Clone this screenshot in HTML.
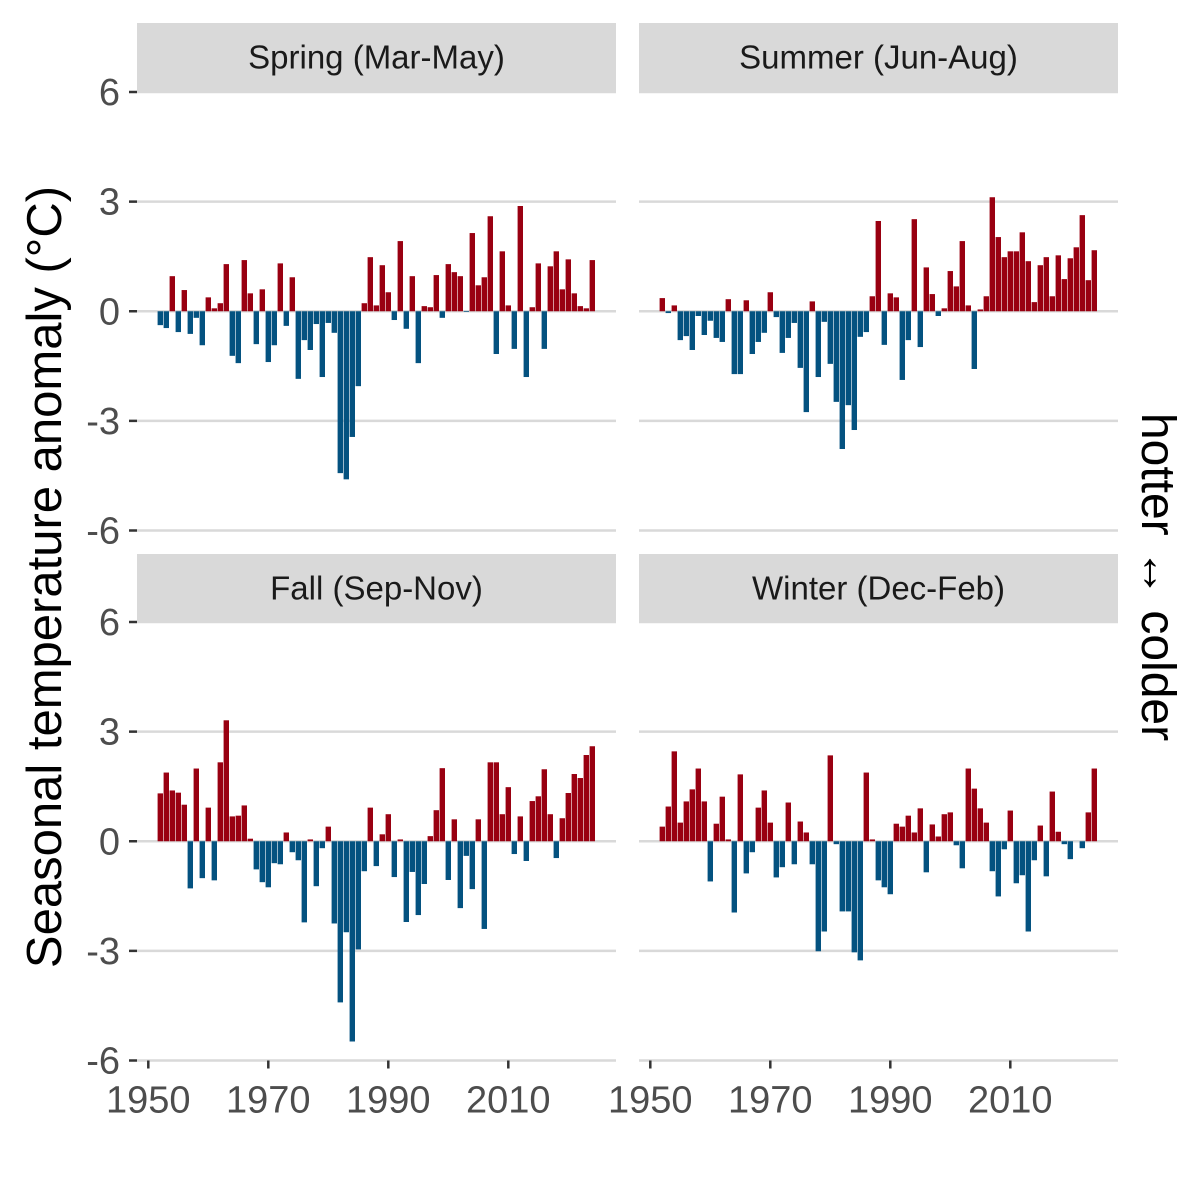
<!DOCTYPE html>
<html><head><meta charset="utf-8"><style>
html,body{margin:0;padding:0;background:#fff;}
svg{display:block;font-family:"Liberation Sans",Arial,sans-serif;}
</style></head><body>
<svg id="chart" width="1200" height="1200" viewBox="0 0 1200 1200" xmlns="http://www.w3.org/2000/svg">
<rect width="1200" height="1200" fill="#fff"/>
<text transform="translate(61,577) rotate(-90)" text-anchor="middle" font-size="49" fill="#000">Seasonal temperature anomaly (°C)</text>
<text transform="translate(1142,577) rotate(90)" text-anchor="middle" font-size="48" fill="#000">hotter ↔ colder</text>
<g id="panels"></g>
</svg>
<script>
const years = [];
for (let y = 1952; y <= 2024; y++) years.push(y);
const yTicks = [6, 3, 0, -3, -6];
const xTicks = [1950, 1970, 1990, 2010];
const seasonNames = ["Spring (Mar-May)", "Summer (Jun-Aug)", "Fall (Sep-Nov)", "Winter (Dec-Feb)"];
const spring = [-0.38,-0.46,0.96,-0.57,0.58,-0.62,-0.18,-0.93,0.38,0.08,0.22,1.29,-1.22,-1.42,1.40,0.49,-0.9,0.6,-1.39,-0.93,1.31,-0.4,0.93,-1.85,-0.79,-1.06,-0.35,-1.8,-0.32,-0.59,-4.43,-4.6,-3.44,-2.05,0.22,1.48,0.16,1.26,0.52,-0.24,1.92,-0.48,0.96,-1.42,0.14,0.11,0.99,-0.18,1.29,1.07,0.96,-0.02,2.14,0.71,0.93,2.6,-1.17,1.64,0.16,-1.03,2.88,-1.8,0.11,1.31,-1.03,1.23,1.64,0.6,1.42,0.49,0.14,0.08,1.40];
const summer = [0.36,-0.05,0.16,-0.79,-0.68,-1.06,-0.13,-0.65,-0.26,-0.73,-0.84,0.33,-1.72,-1.72,0.30,-1.17,-0.84,-0.59,0.52,-0.16,-1.14,-0.73,-0.32,-1.55,-2.76,0.27,-1.8,-0.29,-1.44,-2.48,-3.77,-2.57,-3.25,-0.7,-0.57,0.41,2.47,-0.92,0.49,0.38,-1.88,-0.79,2.52,-0.98,1.2,0.47,-0.13,0.08,1.1,0.68,1.92,0.16,-1.58,0.05,0.41,3.12,2.03,1.48,1.64,1.64,2.16,1.37,0.25,1.26,1.48,0.41,1.53,0.88,1.45,1.75,2.63,0.85,1.67];
const fall = [1.31,1.88,1.39,1.33,1.0,-1.29,1.99,-1.01,0.92,-1.07,2.16,3.31,0.68,0.70,0.98,0.07,-0.77,-1.12,-1.26,-0.6,-0.63,0.24,-0.3,-0.52,-2.22,0.05,-1.23,-0.19,0.4,-2.25,-4.41,-2.49,-5.48,-2.96,-0.82,0.92,-0.68,0.19,0.74,-0.98,0.05,-2.21,-0.84,-2.02,-1.17,0.14,0.85,2.0,-1.06,0.6,-1.83,-0.4,-1.31,0.6,-2.4,2.16,2.16,0.74,1.48,-0.35,0.68,-0.54,1.1,1.23,1.97,0.74,-0.46,0.63,1.32,1.84,1.73,2.36,2.6];
const winter = [0.4,0.95,2.46,0.51,1.09,1.42,1.99,1.09,-1.1,0.48,1.22,0.05,-1.95,1.83,-0.88,-0.3,0.92,1.39,0.51,-0.99,-0.71,1.06,-0.63,0.54,0.24,-0.63,-3.01,-2.47,2.35,-0.08,-1.92,-1.92,-3.04,-3.26,1.88,0.05,-1.07,-1.26,-1.45,0.48,0.4,0.7,0.24,0.9,-0.85,0.46,0.13,0.74,0.79,-0.11,-0.74,1.99,1.44,0.9,0.51,-0.82,-1.51,-0.22,0.84,-1.15,-0.93,-2.47,-0.52,0.43,-0.96,1.36,0.26,-0.08,-0.49,0,-0.19,0.79,1.99];
const seriesList = [spring, summer, fall, winter];

const NS = "http://www.w3.org/2000/svg";
const root = document.getElementById("panels");
function mk(tag, attrs, parent) {
  const e = document.createElementNS(NS, tag);
  for (const k in attrs) e.setAttribute(k, attrs[k]);
  parent.appendChild(e);
  return e;
}
const panelW = 479, gapX = 23, left0 = 137;
const stripTop = [23, 554], stripH = 69;
const panelTop = [92, 622], panelH = 438.5;

seriesList.forEach((vals, i) => {
  const col = i % 2, row = Math.floor(i / 2);
  const px = left0 + col * (panelW + gapX);
  const py = panelTop[row];
  const xScale = yr => px + 11.3 + (yr - 1950) * 6;
  const yScale = v => py + (6 - v) / 12 * panelH;
  const g = mk("g", {}, root);
  
  
  const strip = mk("rect", {x: px, y: stripTop[row], width: panelW, height: stripH, fill: "#d9d9d9"}, g);
  
  
  const st = mk("text", {x: px + panelW / 2, y: stripTop[row] + stripH / 2 + 11, "text-anchor": "middle", "font-size": "33", fill: "#1a1a1a"}, g);
  st.textContent = seasonNames[i];
  
  
  yTicks.forEach(t => {
    const gl = mk("line", {x1: px, x2: px + panelW, y1: yScale(t), y2: yScale(t), stroke: "#d9d9d9", "stroke-width": 2.5}, g);
    
    
    if (col === 0) {
      mk("line", {x1: px - 8, x2: px, y1: yScale(t), y2: yScale(t), stroke: "#333", "stroke-width": 2.5}, g);
      const tl = mk("text", {x: px - 17, y: yScale(t) + 13, "text-anchor": "end", "font-size": "38", fill: "#4d4d4d"}, g);
      tl.textContent = String(t);
      
      
    }
  });
  vals.forEach((v, j) => {
    const x = xScale(years[j]);
    const y0 = yScale(0), y1 = yScale(v);
    const b = mk("rect", {x: x - 2.7, y: Math.min(y0, y1), width: 5.4, height: Math.abs(y1 - y0), fill: v >= 0 ? "#990011" : "#045280"}, g);
    
    
  });
  if (row === 1) {
    xTicks.forEach(t => {
      mk("line", {x1: xScale(t), x2: xScale(t), y1: py + panelH, y2: py + panelH + 8, stroke: "#333", "stroke-width": 2.5}, g);
      const xl = mk("text", {x: xScale(t), y: py + panelH + 52, "text-anchor": "middle", "font-size": "38", fill: "#4d4d4d"}, g);
      xl.textContent = String(t);
      
      
    });
  }
});
</script>
</body></html>
